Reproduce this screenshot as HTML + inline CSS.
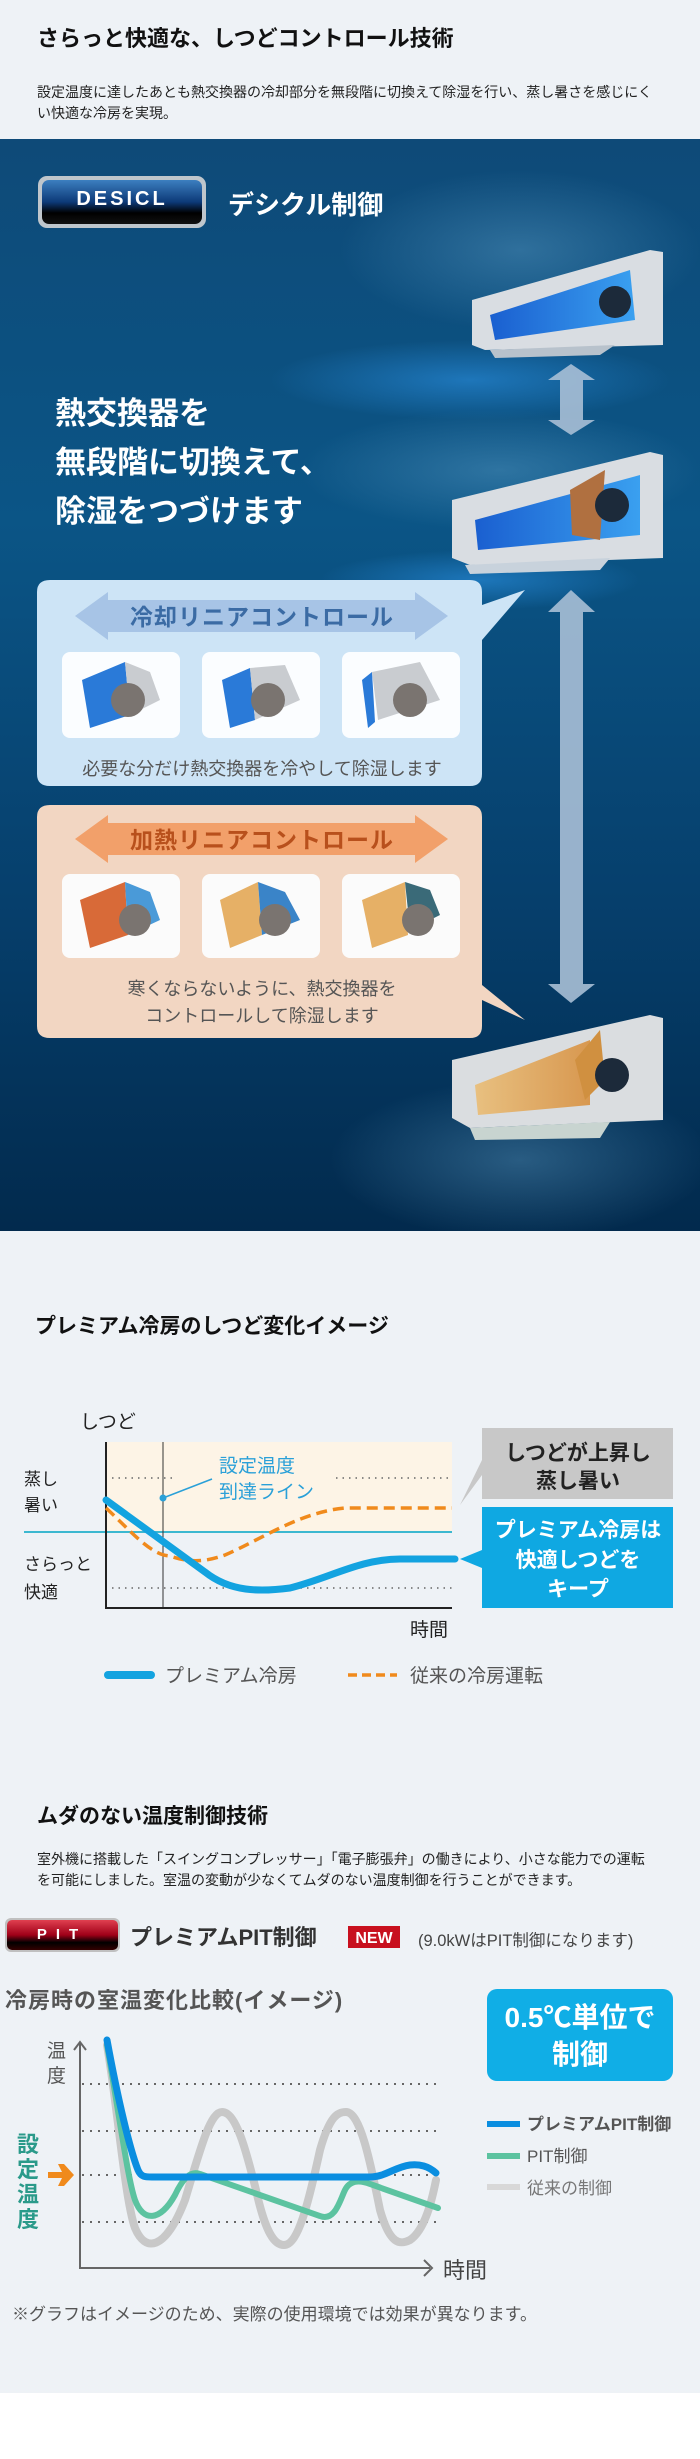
<!DOCTYPE html>
<html><head><meta charset="utf-8"><style>
html,body{margin:0;padding:0;background:#fff;}
svg{display:block;font-family:"Liberation Sans","Noto Sans CJK JP",sans-serif;}
</style></head><body>
<svg width="700" height="2459" viewBox="0 0 700 2459" xmlns="http://www.w3.org/2000/svg">
<defs>
<linearGradient id="bg" x1="0" y1="0" x2="0" y2="1">
<stop offset="0" stop-color="#0e4a78"/><stop offset="0.35" stop-color="#0b5586"/><stop offset="0.7" stop-color="#063f6c"/><stop offset="1" stop-color="#022a4d"/>
</linearGradient>
<radialGradient id="glow" cx="0.5" cy="0.5" r="0.5"><stop offset="0" stop-color="#6fb0d8" stop-opacity="0.35"/><stop offset="1" stop-color="#6fb0d8" stop-opacity="0"/></radialGradient>
<radialGradient id="glowb" cx="0.5" cy="0.5" r="0.5"><stop offset="0" stop-color="#2a8fe0" stop-opacity="0.6"/><stop offset="1" stop-color="#2a8fe0" stop-opacity="0"/></radialGradient>
<linearGradient id="badge" x1="0" y1="0" x2="0" y2="1"><stop offset="0" stop-color="#3c7fc0"/><stop offset="0.5" stop-color="#0d3a78"/><stop offset="0.75" stop-color="#000"/><stop offset="1" stop-color="#111"/></linearGradient>
<linearGradient id="pit" x1="0" y1="0" x2="0" y2="1"><stop offset="0" stop-color="#e04050"/><stop offset="0.5" stop-color="#a00018"/><stop offset="0.75" stop-color="#000"/><stop offset="1" stop-color="#300"/></linearGradient>
<linearGradient id="acb" x1="0" y1="0" x2="1" y2="0"><stop offset="0" stop-color="#1a5fd0"/><stop offset="1" stop-color="#3aa0f0"/></linearGradient>
<linearGradient id="acg" x1="0" y1="0" x2="1" y2="0"><stop offset="0" stop-color="#e8c080"/><stop offset="1" stop-color="#d89850"/></linearGradient>
</defs>

<rect x="0" y="0" width="700" height="139" fill="#eef2f6"/>
<text x="37" y="46" font-size="22" font-weight="bold" fill="#111">さらっと快適な、しつどコントロール技術</text>
<text x="37" y="97" font-size="14" fill="#222">設定温度に達したあとも熱交換器の冷却部分を無段階に切換えて除湿を行い、蒸し暑さを感じにく</text>
<text x="37" y="118" font-size="14" fill="#222">い快適な冷房を実現。</text>

<rect x="0" y="139" width="700" height="1092" fill="url(#bg)"/>
<ellipse cx="520" cy="250" rx="180" ry="80" fill="url(#glow)"/>
<ellipse cx="470" cy="380" rx="200" ry="40" fill="url(#glowb)"/>
<ellipse cx="500" cy="470" rx="200" ry="60" fill="url(#glow)"/>
<ellipse cx="480" cy="580" rx="160" ry="30" fill="url(#glowb)"/>
<ellipse cx="520" cy="1160" rx="190" ry="80" fill="url(#glow)"/>

<rect x="38" y="176" width="168" height="52" rx="9" fill="#bfc6cc"/>
<rect x="42" y="180" width="160" height="44" rx="7" fill="url(#badge)"/>
<text x="122" y="205" font-size="20" font-weight="bold" fill="#fff" text-anchor="middle" letter-spacing="3">DESICL</text>
<text x="228" y="214" font-size="26" font-weight="bold" fill="#fff">デシクル制御</text>

<text x="55" y="424" font-size="31" font-weight="bold" fill="#fff">熱交換器を</text>
<text x="55" y="473" font-size="31" font-weight="bold" fill="#fff">無段階に切換えて、</text>
<text x="55" y="522" font-size="31" font-weight="bold" fill="#fff">除湿をつづけます</text>

<g>
<polygon points="472,300 650,250 663,252 663,345 485,350 472,345" fill="#d9dde2"/>
<polygon points="490,315 630,270 635,320 495,340" fill="url(#acb)"/>
<circle cx="615" cy="302" r="16" fill="#1c2a3a"/>
<polygon points="490,350 615,345 600,355 495,358" fill="#b8c2cc"/>
</g>
<g>
<polygon points="452,500 650,452 663,455 663,558 470,565 452,558" fill="#d9dde2"/>
<polygon points="475,520 640,475 640,535 478,550" fill="url(#acb)"/>
<polygon points="570,490 605,470 600,540 572,535" fill="#b07040"/>
<circle cx="612" cy="505" r="17" fill="#1c2a3a"/>
<polygon points="465,565 610,558 600,570 470,574" fill="#c8d2dc"/>
</g>
<g>
<polygon points="452,1060 650,1015 663,1018 663,1120 470,1128 452,1118" fill="#dadde0"/>
<polygon points="475,1085 590,1040 590,1105 478,1115" fill="url(#acg)"/>
<polygon points="575,1060 600,1030 605,1080 585,1100" fill="#d09040"/>
<circle cx="612" cy="1075" r="17" fill="#1c2a3a"/>
<polygon points="470,1128 610,1122 600,1138 475,1140" fill="#c8d4d0"/>
</g>

<g fill="#a8bfd6" opacity="0.9">
<polygon points="548,380 571,364 595,380"/>
<rect x="560" y="380" width="23" height="40"/>
<polygon points="548,420 571,435 595,420"/>
</g>
<g fill="#a8bfd6" opacity="0.9">
<polygon points="548,612 571,590 595,612"/>
<rect x="560" y="612" width="23" height="372"/>
<polygon points="548,984 571,1003 595,984"/>
</g>

<path d="M50,580 H470 Q482,580 482,592 V605 L525,590 L482,640 V774 Q482,786 470,786 H50 Q37,786 37,774 V592 Q37,580 50,580 Z" fill="#cde4f6"/>
<polygon points="75,616 108,592 108,600 415,600 415,592 448,616 415,640 415,632 108,632 108,640" fill="#a7c4e6"/>
<text x="262" y="625" font-size="23" font-weight="bold" fill="#3b6ba4" text-anchor="middle" letter-spacing="1">冷却リニアコントロール</text>
<g>
<rect x="62" y="652" width="118" height="86" rx="8" fill="#fbfdff"/>
<polygon points="82,680 125,662 130,715 90,728" fill="#2a7ad8"/>
<polygon points="125,662 150,672 160,700 130,715" fill="#c9ccd0"/>
<circle cx="128" cy="700" r="17" fill="#7a7470"/>
<rect x="202" y="652" width="118" height="86" rx="8" fill="#fbfdff"/>
<polygon points="222,680 250,668 255,720 230,728" fill="#2a7ad8"/>
<polygon points="250,668 285,665 300,700 255,720" fill="#c9ccd0"/>
<circle cx="268" cy="700" r="17" fill="#7a7470"/>
<rect x="342" y="652" width="118" height="86" rx="8" fill="#fbfdff"/>
<polygon points="362,680 372,672 375,722 368,728" fill="#2a7ad8"/>
<polygon points="372,672 420,662 440,700 378,720" fill="#c9ccd0"/>
<circle cx="410" cy="700" r="17" fill="#7a7470"/>
</g>
<text x="262" y="775" font-size="18" fill="#555" text-anchor="middle">必要な分だけ熱交換器を冷やして除湿します</text>

<path d="M50,805 H470 Q482,805 482,817 V985 L525,1020 L482,1000 V1026 Q482,1038 470,1038 H50 Q37,1038 37,1026 V817 Q37,805 50,805 Z" fill="#f2d6c2"/>
<polygon points="75,839 108,815 108,823 415,823 415,815 448,839 415,863 415,855 108,855 108,863" fill="#f2a06a"/>
<text x="262" y="848" font-size="23" font-weight="bold" fill="#b8501c" text-anchor="middle" letter-spacing="1">加熱リニアコントロール</text>
<g>
<rect x="62" y="874" width="118" height="84" rx="8" fill="#fbfbfb"/>
<polygon points="80,900 125,882 128,935 90,948" fill="#d86a38"/>
<polygon points="125,882 150,892 160,920 128,935" fill="#4a9ad8"/>
<circle cx="135" cy="920" r="16" fill="#7a7470"/>
<rect x="202" y="874" width="118" height="84" rx="8" fill="#fbfbfb"/>
<polygon points="220,900 258,882 262,935 230,948" fill="#e6b066"/>
<polygon points="258,882 285,892 300,920 262,935" fill="#3a84c8"/>
<circle cx="275" cy="920" r="16" fill="#7a7470"/>
<rect x="342" y="874" width="118" height="84" rx="8" fill="#fbfbfb"/>
<polygon points="362,900 405,882 408,935 372,948" fill="#e6b066"/>
<polygon points="405,882 430,890 440,915 410,930" fill="#3a6a78"/>
<circle cx="418" cy="920" r="16" fill="#7a7470"/>
</g>
<text x="262" y="995" font-size="18" fill="#555" text-anchor="middle">寒くならないように、熱交換器を</text>
<text x="262" y="1022" font-size="18" fill="#555" text-anchor="middle">コントロールして除湿します</text>

<rect x="0" y="1231" width="700" height="1162" fill="#eef2f6"/>
<text x="35" y="1333" font-size="21" font-weight="bold" fill="#111">プレミアム冷房のしつど変化イメージ</text>
<text x="80" y="1428" font-size="19" fill="#222">しつど</text>
<rect x="106" y="1442" width="346" height="90" fill="#fdf4e6"/>
<line x1="112" y1="1478" x2="175" y2="1478" stroke="#666" stroke-width="1.5" stroke-dasharray="1.5,5"/>
<line x1="336" y1="1478" x2="452" y2="1478" stroke="#666" stroke-width="1.5" stroke-dasharray="1.5,5"/>
<line x1="112" y1="1588" x2="452" y2="1588" stroke="#666" stroke-width="1.5" stroke-dasharray="1.5,5"/>
<line x1="24" y1="1532" x2="452" y2="1532" stroke="#3cb8d0" stroke-width="2"/>
<line x1="163" y1="1442" x2="163" y2="1608" stroke="#333" stroke-width="1"/>
<polyline points="106,1442 106,1608 452,1608" fill="none" stroke="#222" stroke-width="2"/>
<text x="219" y="1472" font-size="19" fill="#2aa0d8">設定温度</text>
<text x="219" y="1498" font-size="19" fill="#2aa0d8">到達ライン</text>
<line x1="163" y1="1498" x2="212" y2="1479" stroke="#2aa0d8" stroke-width="1.5"/>
<circle cx="163" cy="1498" r="3.5" fill="#2aa0d8"/>
<text x="24" y="1485" font-size="17" fill="#222">蒸し</text>
<text x="24" y="1511" font-size="17" fill="#222">暑い</text>
<text x="24" y="1570" font-size="17" fill="#222">さらっと</text>
<text x="24" y="1598" font-size="17" fill="#222">快適</text>
<text x="410" y="1636" font-size="19" fill="#222">時間</text>
<path d="M106,1508 C130,1530 150,1555 170,1556 C190,1563 205,1562 225,1555 C260,1540 300,1512 345,1508 L452,1508" fill="none" stroke="#f08a1c" stroke-width="3.5" stroke-dasharray="11,6"/>
<path d="M106,1500 L205,1572 C230,1592 260,1592 290,1588 C330,1578 360,1559 400,1559 L455,1559" fill="none" stroke="#13a3e0" stroke-width="7" stroke-linecap="round"/>
<polygon points="482,1460 460,1505 482,1475" fill="#c8c8c8"/>
<rect x="482" y="1428" width="191" height="71" fill="#c8c8c8"/>
<text x="578" y="1460" font-size="21" font-weight="bold" fill="#222" text-anchor="middle">しつどが上昇し</text>
<text x="578" y="1488" font-size="21" font-weight="bold" fill="#222" text-anchor="middle">蒸し暑い</text>
<polygon points="482,1550 460,1559 482,1568" fill="#0fa8e2"/>
<rect x="482" y="1507" width="191" height="101" fill="#0fa8e2"/>
<text x="578" y="1537" font-size="21" font-weight="bold" fill="#fff" text-anchor="middle">プレミアム冷房は</text>
<text x="578" y="1567" font-size="21" font-weight="bold" fill="#fff" text-anchor="middle">快適しつどを</text>
<text x="578" y="1596" font-size="21" font-weight="bold" fill="#fff" text-anchor="middle">キープ</text>
<line x1="108" y1="1675" x2="151" y2="1675" stroke="#13a3e0" stroke-width="8" stroke-linecap="round"/>
<text x="165" y="1682" font-size="19" fill="#555">プレミアム冷房</text>
<line x1="348" y1="1675" x2="397" y2="1675" stroke="#f08a1c" stroke-width="3.5" stroke-dasharray="9,5"/>
<text x="410" y="1682" font-size="19" fill="#555">従来の冷房運転</text>

<text x="37" y="1823" font-size="21" font-weight="bold" fill="#111">ムダのない温度制御技術</text>
<text x="37" y="1864" font-size="14" fill="#222">室外機に搭載した「スイングコンプレッサー」「電子膨張弁」の働きにより、小さな能力での運転</text>
<text x="37" y="1885" font-size="14" fill="#222">を可能にしました。室温の変動が少なくてムダのない温度制御を行うことができます。</text>
<rect x="5" y="1918" width="115" height="34" rx="6" fill="#c0c0c0"/>
<rect x="7" y="1920" width="111" height="30" rx="5" fill="url(#pit)"/>
<text x="62" y="1939" font-size="15" font-weight="bold" fill="#fff" text-anchor="middle" letter-spacing="9">PIT</text>
<text x="130" y="1945" font-size="22" font-weight="bold" fill="#333">プレミアムPIT制御</text>
<rect x="348" y="1926" width="52" height="22" fill="#c8101e"/>
<text x="374" y="1943" font-size="16" font-weight="bold" fill="#fff" text-anchor="middle">NEW</text>
<text x="418" y="1946" font-size="16.5" fill="#444">(9.0kWはPIT制御になります)</text>
<text x="5" y="2008" font-size="22" font-weight="bold" fill="#555" letter-spacing="1">冷房時の室温変化比較(イメージ)</text>
<rect x="487" y="1989" width="186" height="92" rx="10" fill="#10aee6"/>
<text x="580" y="2027" font-size="28" font-weight="bold" fill="#fff" text-anchor="middle">0.5℃単位で</text>
<text x="580" y="2064" font-size="28" font-weight="bold" fill="#fff" text-anchor="middle">制御</text>
<text x="47" y="2057" font-size="19" fill="#555">温</text>
<text x="47" y="2082" font-size="19" fill="#555">度</text>
<g stroke="#666" stroke-width="2" stroke-dasharray="2,6">
<line x1="82" y1="2084" x2="436" y2="2084"/><line x1="82" y1="2131" x2="436" y2="2131"/>
<line x1="82" y1="2175" x2="436" y2="2175"/><line x1="82" y1="2222" x2="436" y2="2222"/>
</g>
<polyline points="80,2042 80,2268 430,2268" fill="none" stroke="#666" stroke-width="2"/>
<polyline points="74,2050 80,2042 86,2050" fill="none" stroke="#666" stroke-width="2"/>
<polyline points="424,2260 432,2268 424,2276" fill="none" stroke="#666" stroke-width="2"/>
<text x="443" y="2278" font-size="22" fill="#444">時間</text>
<g font-size="22" font-weight="bold" fill="#2a9a8a"><text x="17" y="2152">設</text><text x="17" y="2177">定</text><text x="17" y="2202">温</text><text x="17" y="2227">度</text></g>
<polygon points="48,2172 62,2172 58,2164 64,2164 74,2175 64,2186 58,2186 62,2178 48,2178" fill="#f08a1c"/>
<path d="M107,2045 C118,2110 125,2200 135,2228 C145,2252 165,2252 185,2200 C200,2150 210,2112 222,2112 C236,2112 246,2150 256,2190 C266,2235 275,2245 284,2245 C298,2245 308,2205 320,2150 C330,2115 338,2112 346,2112 C360,2112 370,2160 380,2210 C390,2245 400,2245 410,2240 C425,2230 432,2200 436,2180" fill="none" stroke="#c8c8c8" stroke-width="8" stroke-linecap="round"/>
<path d="M107,2045 C120,2120 128,2180 135,2200 C143,2222 160,2222 175,2195 C182,2180 190,2170 200,2174 L320,2216 C335,2222 340,2200 345,2190 C350,2180 360,2180 370,2184 L438,2208" fill="none" stroke="#5cc3a0" stroke-width="6" stroke-linecap="round"/>
<path d="M107,2040 C118,2100 130,2150 138,2170 C141,2177 145,2177 152,2177 L370,2177 C385,2177 395,2167 410,2165 C420,2164 428,2166 436,2173" fill="none" stroke="#0a8ee0" stroke-width="7" stroke-linecap="round"/>
<line x1="487" y1="2124" x2="520" y2="2124" stroke="#0a8ee0" stroke-width="6"/>
<text x="527" y="2130" font-size="17" font-weight="bold" fill="#555">プレミアムPIT制御</text>
<line x1="487" y1="2156" x2="520" y2="2156" stroke="#5cc3a0" stroke-width="6"/>
<text x="527" y="2162" font-size="17" fill="#555">PIT制御</text>
<line x1="487" y1="2187" x2="520" y2="2187" stroke="#d8d8d8" stroke-width="6"/>
<text x="527" y="2194" font-size="17" fill="#777">従来の制御</text>
<text x="12" y="2320" font-size="17" fill="#555">※グラフはイメージのため、実際の使用環境では効果が異なります。</text>
</svg>
</body></html>
